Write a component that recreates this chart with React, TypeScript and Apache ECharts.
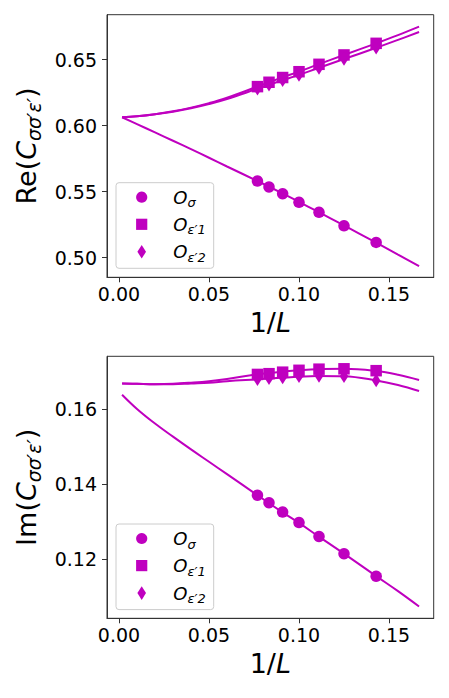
import React, { useEffect, useRef } from "react";
import * as echarts from "echarts";

// System sizes L and the measured points (x = 1/L)
const sizes = [13, 12, 11, 10, 9, 8, 7];
const invL = sizes.map((L) => 1 / L);

const reSigma = [0.5581, 0.5536, 0.5485, 0.542, 0.5344, 0.5242, 0.5116];
const reEps1 = [0.6296, 0.6329, 0.6365, 0.6409, 0.6465, 0.6536, 0.6624];
const reEps2 = [0.628, 0.631, 0.6345, 0.6385, 0.6437, 0.6505, 0.659];

const imSigma = [0.1371, 0.1351, 0.1326, 0.1298, 0.1261, 0.1215, 0.1155];
const imEps1 = [0.1693, 0.1695, 0.1699, 0.1704, 0.1707, 0.1708, 0.1703];
const imEps2 = [0.168, 0.1683, 0.1685, 0.1688, 0.1689, 0.1688, 0.1677];

// Fit curves
const fitX = [0.0017, 0.01, 0.02, 0.03, 0.04, 0.05, 0.06, 0.0769, 0.09, 0.1, 0.11, 0.125, 0.1429, 0.155, 0.1667];
const reSigmaFit = [0.6064, 0.6012, 0.5949, 0.5886, 0.5822, 0.5757, 0.5691, 0.5581, 0.5493, 0.5423, 0.5352, 0.5244, 0.5114, 0.5024, 0.4937];
const reEps1Fit = [0.6064, 0.6071, 0.6087, 0.6109, 0.6137, 0.6171, 0.6212, 0.6296, 0.6362, 0.641, 0.6461, 0.6536, 0.6624, 0.6686, 0.675];
const reEps2Fit = [0.6064, 0.6071, 0.6086, 0.6106, 0.6132, 0.6164, 0.6202, 0.628, 0.634, 0.6385, 0.6433, 0.6505, 0.659, 0.665, 0.671];
const imSigmaFit = [0.1639, 0.1601, 0.1562, 0.1527, 0.1493, 0.146, 0.1427, 0.1371, 0.1328, 0.1297, 0.1264, 0.1215, 0.1155, 0.1115, 0.1074];
const imEps1Fit = [0.1669, 0.1668, 0.1667, 0.1668, 0.1671, 0.1675, 0.1681, 0.1693, 0.17, 0.1704, 0.1707, 0.1708, 0.1702, 0.1692, 0.1678];
const imEps2Fit = [0.1669, 0.1668, 0.1667, 0.1667, 0.1669, 0.1671, 0.1675, 0.168, 0.1684, 0.1687, 0.1689, 0.1688, 0.1677, 0.1665, 0.1649];

// Tick labels
const xTicks = [0, 0.05, 0.1, 0.15];
const reTicks = [0.5, 0.55, 0.6, 0.65];
const imTicks = [0.12, 0.14, 0.16];

const legendNames = ["Oσ", "Oε′1", "Oε′2"];
const legendRich = ["{o|O}{s|σ}", "{o|O}{s|ε′1}", "{o|O}{s|ε′2}"];

const COLOR = "#bf00bf";
const FONT = "DejaVu Sans";
const FRAME = "#333";

const pairs = (xs: number[], ys: number[]) => xs.map((x, i) => [x, ys[i]]);

export default function App() {
  const ref = useRef<HTMLDivElement>(null);
  useEffect(() => {
    if (!ref.current) return;
    const chart = echarts.init(ref.current, null, { renderer: "svg" });

    const grids = [
      { left: 107, top: 14.7, width: 326.7, height: 262.6 },
      { left: 107, top: 356.3, width: 326.7, height: 262 },
    ];

    const xAxisFor = (gi: number) => ({
      type: "value",
      gridIndex: gi,
      min: -0.006667,
      max: 0.17483,
      axisLine: { show: true, onZero: false, lineStyle: { color: FRAME, width: 1 } },
      splitLine: { show: false },
      axisTick: { show: true, customValues: xTicks, length: 5, lineStyle: { color: FRAME, width: 1 } },
      axisLabel: {
        customValues: xTicks,
        formatter: (v: number) => v.toFixed(2),
        margin: 7,
        fontSize: 19,
        color: "#000",
        fontFamily: FONT,
      },
      name: "{n|1/}{i|L}",
      nameLocation: "middle",
      nameGap: 29,
      nameTextStyle: {
        rich: {
          n: { fontSize: 27, fontFamily: FONT, color: "#000", lineHeight: 32 },
          i: { fontSize: 27, fontFamily: FONT, fontStyle: "italic", color: "#000", lineHeight: 32 },
        },
      },
    });

    const yAxisFor = (gi: number, min: number, max: number, ticks: number[], prefix: string) => ({
      type: "value",
      gridIndex: gi,
      min,
      max,
      axisLine: { show: true, onZero: false, lineStyle: { color: FRAME, width: 1 } },
      splitLine: { show: false },
      axisTick: { show: true, customValues: ticks, length: 5, lineStyle: { color: FRAME, width: 1 } },
      axisLabel: {
        customValues: ticks,
        formatter: (v: number) => v.toFixed(2),
        margin: 10,
        fontSize: 19,
        color: "#000",
        fontFamily: FONT,
      },
      name: "{r|" + prefix + "(}{c|C}{s|σσ′ε′}{r|)}",
      nameLocation: "middle",
      nameGap: 62,
      nameRotate: 90,
      nameTextStyle: {
        rich: {
          r: { fontSize: 27, fontFamily: FONT, color: "#000", lineHeight: 34 },
          c: { fontSize: 27, fontFamily: FONT, fontStyle: "italic", color: "#000", lineHeight: 34 },
          s: { fontSize: 19, fontFamily: FONT, fontStyle: "italic", color: "#000", lineHeight: 22, verticalAlign: "bottom" },
        },
      },
    });

    const lineSeries = (gi: number, name: string, ys: number[]) => ({
      type: "line",
      name,
      xAxisIndex: gi,
      yAxisIndex: gi,
      data: pairs(fitX, ys),
      showSymbol: false,
      smooth: 0.4,
      lineStyle: { color: COLOR, width: 2 },
      itemStyle: { color: COLOR },
      z: 2,
    });

    const scatterSeries = (gi: number, name: string, ys: number[], symbol: string, size: any, z: number) => ({
      type: "scatter",
      name,
      xAxisIndex: gi,
      yAxisIndex: gi,
      data: pairs(invL, ys),
      symbol,
      symbolSize: size,
      itemStyle: { color: COLOR, opacity: 1 },
      z,
    });

    const legendGraphic = (boxTop: number) => {
      const rows = [boxTop + 14.5, boxTop + 41.6, boxTop + 69.1];
      const mx = 141.7;
      const tx = 173.3;
      const els: any[] = [
        {
          type: "rect",
          shape: { x: 116, y: boxTop, width: 97.7, height: 85.6, r: 3 },
          style: { fill: "rgba(255,255,255,0.8)", stroke: "#cccccc", lineWidth: 1 },
          z: 10,
        },
        { type: "circle", shape: { cx: mx, cy: rows[0], r: 5.6 }, style: { fill: COLOR }, z: 11 },
        { type: "rect", shape: { x: mx - 5.6, y: rows[1] - 5.6, width: 11.2, height: 11.2 }, style: { fill: COLOR }, z: 11 },
        {
          type: "polygon",
          shape: { points: [[mx, rows[2] - 6.8], [mx + 4.3, rows[2]], [mx, rows[2] + 6.8], [mx - 4.3, rows[2]]] },
          style: { fill: COLOR },
          z: 11,
        },
      ];
      legendRich.forEach((t, i) => {
        els.push({
          type: "text",
          x: tx,
          y: rows[i],
          z: 11,
          style: {
            text: t,
            align: "left",
            verticalAlign: "middle",
            fill: "#000",
            rich: {
              o: { fontSize: 18, fontFamily: FONT, fontStyle: "italic", lineHeight: 24, fill: "#000" },
              s: { fontSize: 13, fontFamily: FONT, fontStyle: "italic", lineHeight: 14, verticalAlign: "bottom", fill: "#000" },
            },
          },
        });
      });
      return els;
    };

    chart.setOption({
      animation: false,
      backgroundColor: "#fff",
      grid: grids.map((g) => ({ ...g, show: true, borderColor: FRAME, borderWidth: 1, backgroundColor: "transparent" })),
      xAxis: [xAxisFor(0), xAxisFor(1)],
      yAxis: [
        yAxisFor(0, 0.48515, 0.68409, reTicks, "Re"),
        yAxisFor(1, 0.104267, 0.174133, imTicks, "Im"),
      ],
      series: [
        lineSeries(0, "Re fit σ", reSigmaFit),
        lineSeries(0, "Re fit ε′1", reEps1Fit),
        lineSeries(0, "Re fit ε′2", reEps2Fit),
        scatterSeries(0, legendNames[0], reSigma, "circle", 11.5, 3),
        scatterSeries(0, legendNames[1], reEps1, "rect", 11.5, 4),
        scatterSeries(0, legendNames[2], reEps2, "diamond", [8.6, 13.6], 5),
        lineSeries(1, "Im fit σ", imSigmaFit),
        lineSeries(1, "Im fit ε′1", imEps1Fit),
        lineSeries(1, "Im fit ε′2", imEps2Fit),
        scatterSeries(1, legendNames[0], imSigma, "circle", 11.5, 3),
        scatterSeries(1, legendNames[1], imEps1, "rect", 11.5, 4),
        scatterSeries(1, legendNames[2], imEps2, "diamond", [8.6, 13.6], 5),
      ],
      graphic: [...legendGraphic(182.7), ...legendGraphic(524)],
    });

    return () => chart.dispose();
  }, []);

  return (
    <div
      ref={ref}
      style={{ position: "absolute", left: 0, top: 0, width: 449, height: 698, background: "#fff" }}
    />
  );
}
